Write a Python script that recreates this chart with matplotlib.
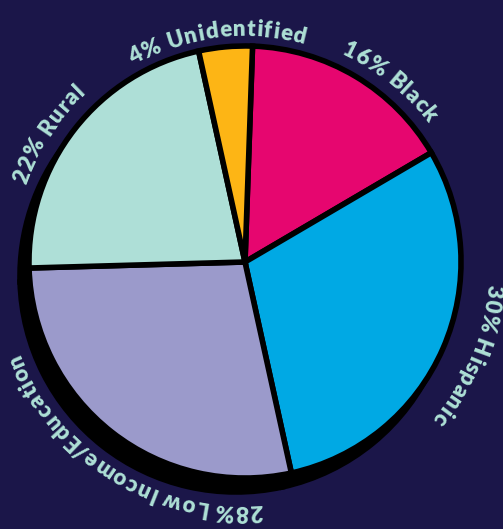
import matplotlib
matplotlib.use("Agg")
import matplotlib.pyplot as plt
import numpy as np
from matplotlib.font_manager import FontProperties, findfont
from matplotlib import ft2font

labels = ["16% Black", "30% Hispanic", "28% Low Income/Education", "22% Rural", "4% Unidentified"]
values = [16, 30, 28, 22, 4]
colors = ["#e6066f", "#00a9e4", "#9b9acb", "#aedfd7", "#fdb515"]

BG = "#1b1649"
TXT = "#aee0d6"
W, H = 503, 529
fig = plt.figure(figsize=(W / 100, H / 100), dpi=100, facecolor=BG)
ax = fig.add_axes([0, 0, 1, 1])
ax.set_facecolor(BG)

cx, cy, R = 245, 529 - 262, 216
start = 88
explode = [0.02] * len(values)

# shadow
ax.pie(values, colors=["black"] * len(values), startangle=start, counterclock=False,
       center=(cx - 9, cy - 14), radius=R, explode=explode,
       wedgeprops=dict(edgecolor="black", linewidth=4))
ax.pie(values, colors=colors, startangle=start, counterclock=False,
       center=(cx, cy), radius=R, explode=explode,
       wedgeprops=dict(edgecolor="black", linewidth=4))

ax.set_xlim(0, W)
ax.set_ylim(0, H)
ax.set_aspect("equal")
ax.axis("off")

FS = 16
fp = FontProperties(family="Lato", weight="heavy", size=FS)
px_per_pt = 100 / 72
SPACING = 1.0

font = ft2font.FT2Font(findfont(fp))
font.set_size(FS, 72)
try:
    NOHINT = ft2font.LoadFlags.NO_HINTING
except AttributeError:
    NOHINT = ft2font.LOAD_NO_HINTING


def adv_px(ch):
    g = font.load_char(ord(ch), flags=NOHINT)
    return g.linearHoriAdvance / 65536 * px_per_pt + SPACING


def curved(text, mid_deg, r):
    advs = [adv_px(c) for c in text]
    total = sum(advs)
    th0 = np.deg2rad(mid_deg) + total / (2 * r)
    s = 0.0
    for ch, a in zip(text, advs):
        th = th0 - (s + a / 2) / r
        s += a
        if ch == " ":
            continue
        x = cx + r * np.cos(th)
        y = cy + r * np.sin(th)
        ax.text(x, y, ch, fontproperties=fp, color=TXT, ha="center", va="baseline",
                rotation=np.rad2deg(th) - 90, rotation_mode="anchor")


total = sum(values)
acc = 0
label_r = [229, 243, 243, 232, 226]
label_shift = [-8, 1, 6, 5, 2]
for lab, v, r, sh in zip(labels, values, label_r, label_shift):
    mid = start - (acc + v / 2) / total * 360
    acc += v
    curved(lab, mid + sh, r)

fig.savefig("out.png", dpi=100, facecolor=BG)
